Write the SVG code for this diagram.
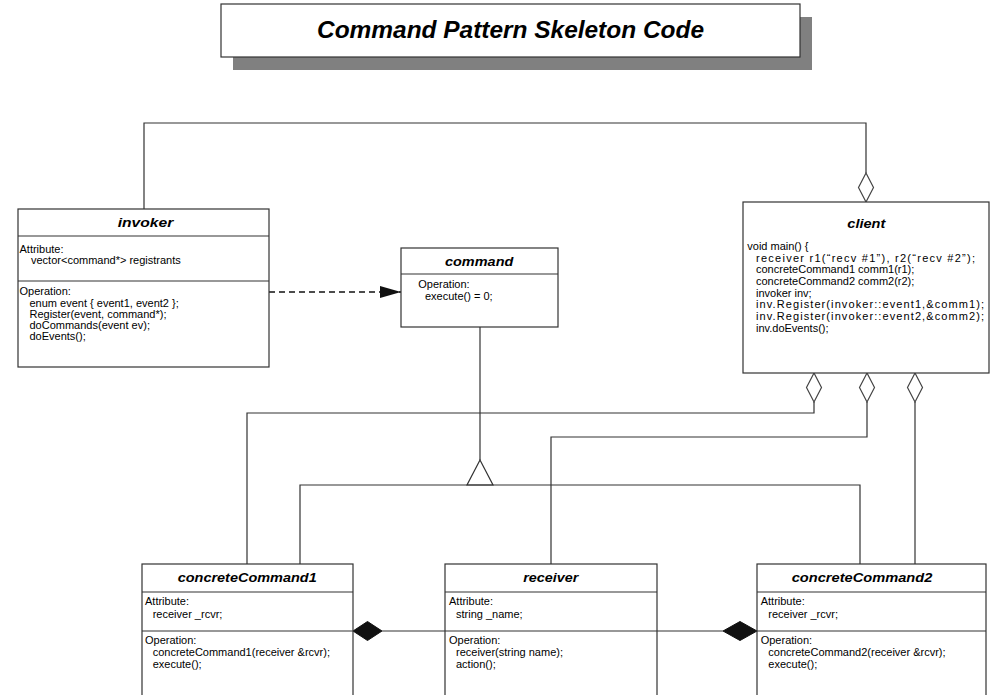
<svg xmlns="http://www.w3.org/2000/svg" width="1000" height="695" viewBox="0 0 1000 695">
  <defs>
    <style>
      .box { fill: #fff; stroke: #333; stroke-width: 1.2; }
      .sep { stroke: #333; stroke-width: 1.2; }
      .line { fill: none; stroke: #333; stroke-width: 1.2; }
      .title { font-family: "Liberation Sans", Arial, sans-serif; font-size: 12.5px; font-weight: bold; font-style: italic; fill: #000; }
      .txt { font-family: "Liberation Sans", Arial, sans-serif; font-size: 11px; fill: #000; }
      .agg { fill: #fff; stroke: #444; stroke-width: 1.2; }
      .comp { fill: #111; stroke: #111; stroke-width: 1; }
    </style>
    <marker id="arrow" markerWidth="22" markerHeight="12" refX="21" refY="6" orient="auto" markerUnits="userSpaceOnUse">
      <path d="M0,0 L21,6 L0,12 Z" fill="#111"/>
    </marker>
  </defs>
  <rect width="1000" height="695" fill="#fff"/>

  <!-- heading -->
  <g id="heading">
    <rect x="233" y="17" width="579" height="53" fill="#808080"/>
    <rect x="221" y="4" width="579" height="53" fill="#fff" stroke="#333" stroke-width="1.2"/>
    <text x="317" y="38" font-family="Liberation Sans, Arial, sans-serif" font-size="24" font-weight="bold" font-style="italic" textLength="387" lengthAdjust="spacingAndGlyphs">Command Pattern Skeleton Code</text>
  </g>

  <!-- connectors -->
  <g id="connectors">
    <!-- invoker aggregated by client -->
    <polyline class="line" points="144,209 144,123 866,123 866,173"/>
    <path class="agg" d="M866,173 L873.5,187.5 L866,202 L858.5,187.5 Z"/>
    <!-- invoker uses command -->
    <line x1="269" y1="292" x2="401" y2="292" stroke="#111" stroke-width="1.5" stroke-dasharray="6,4" marker-end="url(#arrow)"/>
    <!-- generalization -->
    <line class="line" x1="480" y1="327" x2="480" y2="460"/>
    <path class="line" d="M480,460 L467,485 L493,485 Z"/>
    <polyline class="line" points="300,564 300,485 860,485 860,564"/>
    <!-- client aggregations -->
    <path class="agg" d="M814,373 L821.5,387.5 L814,402 L806.5,387.5 Z"/>
    <polyline class="line" points="814,402 814,413 247,413 247,564"/>
    <path class="agg" d="M867,373 L874.5,387.5 L867,402 L859.5,387.5 Z"/>
    <polyline class="line" points="867,402 867,437 551,437 551,564"/>
    <path class="agg" d="M915,373 L922.5,387.5 L915,402 L907.5,387.5 Z"/>
    <line class="line" x1="915" y1="402" x2="915" y2="564"/>
    <!-- receiver composed into concrete commands -->
    <line class="line" x1="382" y1="631" x2="445" y2="631"/>
    <path class="comp" d="M353,631 L367.5,621.5 L382,631 L367.5,640.5 Z"/>
    <line class="line" x1="657" y1="631" x2="723" y2="631"/>
    <path class="comp" d="M723,631 L740,621.5 L757,631 L740,640.5 Z"/>
  </g>

  <!-- invoker -->
  <g id="invoker">
    <rect class="box" x="18" y="209" width="251" height="158"/>
    <line class="sep" x1="18" y1="236" x2="269" y2="236"/>
    <line class="sep" x1="18" y1="281" x2="269" y2="281"/>
    <text class="title" x="117.7" y="227" textLength="55.6" lengthAdjust="spacingAndGlyphs">invoker</text>
    <text class="txt" x="19.5" y="253">Attribute:</text>
    <text class="txt" x="31" y="264">vector&lt;command*&gt; registrants</text>
    <text class="txt" x="19.5" y="295">Operation:</text>
    <text class="txt" x="29.5" y="306.5">enum event { event1, event2 };</text>
    <text class="txt" x="29.5" y="317.5">Register(event, command*);</text>
    <text class="txt" x="29.5" y="329">doCommands(event ev);</text>
    <text class="txt" x="29.5" y="340">doEvents();</text>
  </g>

  <!-- command -->
  <g id="command">
    <rect class="box" x="401" y="248" width="157" height="79"/>
    <line class="sep" x1="401" y1="274" x2="558" y2="274"/>
    <text class="title" x="445" y="266" textLength="68.3" lengthAdjust="spacingAndGlyphs">command</text>
    <text class="txt" x="418.3" y="288">Operation:</text>
    <text class="txt" x="425" y="300">execute() = 0;</text>
  </g>

  <!-- client -->
  <g id="client">
    <rect class="box" x="743" y="202" width="246" height="171"/>
    <text class="title" x="847.3" y="228" textLength="38" lengthAdjust="spacingAndGlyphs">client</text>
    <text class="txt" x="747.3" y="250">void main() {</text>
    <text class="txt" x="756" y="261.7" textLength="219" lengthAdjust="spacing">receiver r1(“recv #1”), r2(“recv #2”);</text>
    <text class="txt" x="756" y="273.3">concreteCommand1 comm1(r1);</text>
    <text class="txt" x="756" y="285">concreteCommand2 comm2(r2);</text>
    <text class="txt" x="756" y="296.7">invoker inv;</text>
    <text class="txt" x="756" y="308.3" textLength="228" lengthAdjust="spacing">inv.Register(invoker::event1,&amp;comm1);</text>
    <text class="txt" x="756" y="320" textLength="228" lengthAdjust="spacing">inv.Register(invoker::event2,&amp;comm2);</text>
    <text class="txt" x="756" y="331.7">inv.doEvents();</text>
  </g>

  <!-- concreteCommand1 -->
  <g id="concreteCommand1">
    <rect class="box" x="142" y="564" width="211" height="140"/>
    <line class="sep" x1="142" y1="592" x2="353" y2="592"/>
    <line class="sep" x1="142" y1="631" x2="353" y2="631"/>
    <text class="title" x="177.7" y="582" textLength="139" lengthAdjust="spacingAndGlyphs">concreteCommand1</text>
    <text class="txt" x="145" y="605">Attribute:</text>
    <text class="txt" x="152.7" y="617.5">receiver _rcvr;</text>
    <text class="txt" x="145" y="644">Operation:</text>
    <text class="txt" x="152.7" y="656">concreteCommand1(receiver &amp;rcvr);</text>
    <text class="txt" x="152.7" y="668">execute();</text>
  </g>

  <!-- receiver -->
  <g id="receiver">
    <rect class="box" x="445" y="564" width="212" height="140"/>
    <line class="sep" x1="445" y1="592" x2="657" y2="592"/>
    <line class="sep" x1="445" y1="631" x2="657" y2="631"/>
    <text class="title" x="523.3" y="582" textLength="55" lengthAdjust="spacingAndGlyphs">receiver</text>
    <text class="txt" x="449" y="605">Attribute:</text>
    <text class="txt" x="456" y="617.5">string _name;</text>
    <text class="txt" x="449" y="644">Operation:</text>
    <text class="txt" x="456" y="656">receiver(string name);</text>
    <text class="txt" x="456" y="668">action();</text>
  </g>

  <!-- concreteCommand2 -->
  <g id="concreteCommand2">
    <rect class="box" x="757" y="564" width="229" height="140"/>
    <line class="sep" x1="757" y1="592" x2="986" y2="592"/>
    <line class="sep" x1="757" y1="631" x2="986" y2="631"/>
    <text class="title" x="791.7" y="582" textLength="140.6" lengthAdjust="spacingAndGlyphs">concreteCommand2</text>
    <text class="txt" x="760.7" y="605">Attribute:</text>
    <text class="txt" x="768.3" y="617.5">receiver _rcvr;</text>
    <text class="txt" x="760.7" y="644">Operation:</text>
    <text class="txt" x="768.3" y="656">concreteCommand2(receiver &amp;rcvr);</text>
    <text class="txt" x="768.3" y="668">execute();</text>
  </g>
</svg>
